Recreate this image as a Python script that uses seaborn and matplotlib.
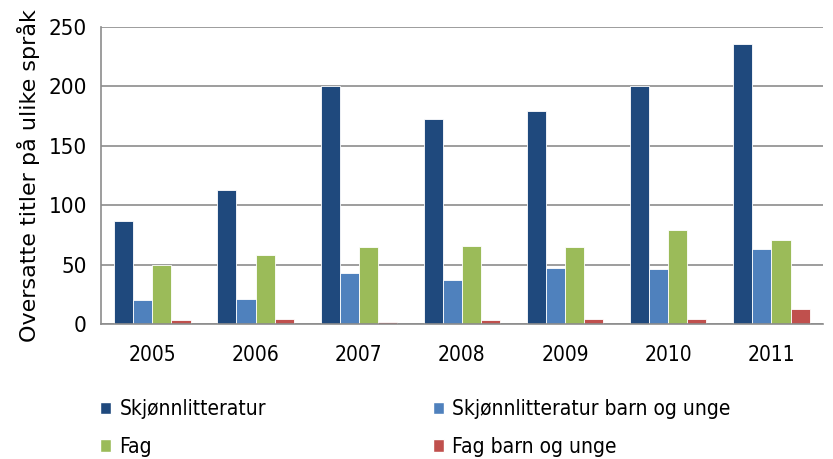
import seaborn as sns
import matplotlib.pyplot as plt
import pandas as pd
from matplotlib.patches import Patch

years = ['2005', '2006', '2007', '2008', '2009', '2010', '2011']
skjonn = [87, 113, 200, 173, 179, 200, 236]
skjonn_barn = [20, 21, 43, 37, 47, 46, 63]
fag = [50, 58, 65, 66, 65, 79, 71]
fag_barn = [3, 4, 2, 3, 4, 4, 13]
series = ['Skjønnlitteratur', 'Skjønnlitteratur barn og unge', 'Fag', 'Fag barn og unge']
colors = ['#1F497D', '#4F81BD', '#9BBB59', '#C0504D']

rows = []
for name, vals in zip(series, [skjonn, skjonn_barn, fag, fag_barn]):
    for y, v in zip(years, vals):
        rows.append({'year': y, 'serie': name, 'antall': v})
df = pd.DataFrame(rows)

sns.set_style('white')
plt.rcParams['font.family'] = ['DejaVu Sans']
plt.rcParams['font.stretch'] = 'condensed'
plt.rcParams['text.color'] = 'black'
plt.rcParams['axes.labelcolor'] = 'black'
plt.rcParams['xtick.labelcolor'] = 'black'
plt.rcParams['ytick.labelcolor'] = 'black'

fig = plt.figure(figsize=(8.33, 4.59), dpi=100)
ax = fig.add_axes([0.121, 0.294, 0.867, 0.647])

sns.barplot(data=df, x='year', y='antall', hue='serie', palette=colors,
            saturation=1, width=0.74, gap=0, edgecolor='white', linewidth=0.6,
            ax=ax, legend=False)

ax.set_ylim(0, 250)
ax.set_yticks([0, 50, 100, 150, 200, 250])
ax.set_xlim(-0.5, 6.5)
ax.yaxis.grid(True, color='#8c8c8c', linewidth=1.2)
ax.set_axisbelow(True)
for s in ['top', 'right']:
    ax.spines[s].set_visible(False)
for s in ['left', 'bottom']:
    ax.spines[s].set_color('#8c8c8c')
    ax.spines[s].set_linewidth(1.2)

# ticks between categories like excel
ax.set_xticks([i - 0.5 for i in range(8)], minor=True)
ax.tick_params(axis='x', which='minor', length=6, color='#8c8c8c', width=1.2, direction='out')
ax.tick_params(axis='x', which='major', length=0, labelsize=15, pad=15)
ax.tick_params(axis='y', length=6, color='#8c8c8c', width=1.2, labelsize=16, pad=4)
ax.set_xlabel('')
ax.set_ylabel('Oversatte titler på ulike språk', fontsize=16, fontstretch='normal', labelpad=6)

# row-wise legend order (matplotlib fills columns first)
order = [0, 2, 1, 3]
handles = [Patch(facecolor=colors[i], label=series[i]) for i in order]
fig.legend(handles=handles, loc='upper left', bbox_to_anchor=(0.097, 0.171),
           ncol=2, frameon=False, fontsize=15, handlelength=0.55, handleheight=0.55,
           handletextpad=0.4, columnspacing=8.0, labelspacing=0.85)

fig.savefig('out.png', dpi=100)
